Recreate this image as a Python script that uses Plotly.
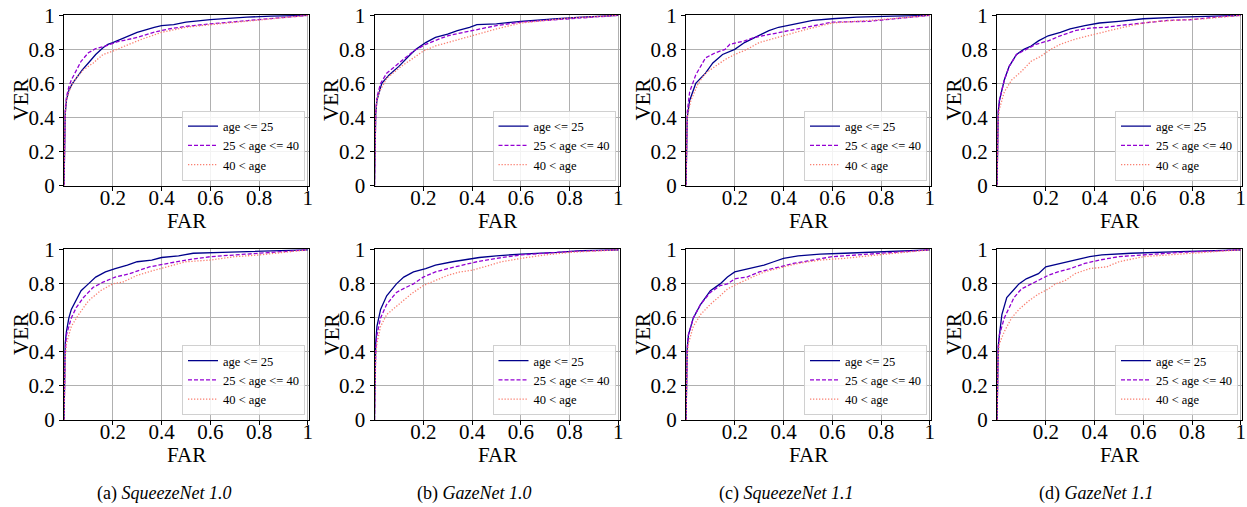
import plotly.graph_objects as go

# ---------------- data (FAR, VER) ----------------
SERIES_NAMES = ["age <= 25", "25 < age <= 40", "40 < age"]
CAPTION_TAGS = ["(a)", "(b)", "(c)", "(d)"]
MODEL_NAMES = ["SqueezeNet 1.0", "GazeNet 1.0", "SqueezeNet 1.1", "GazeNet 1.1"]
Y_TICKS = [0, 0.2, 0.4, 0.6, 0.8, 1.0]
Y_TICK_TEXT = ["0", "0.2", "0.4", "0.6", "0.8", "1"]
X_TICKS = [0.2, 0.4, 0.6, 0.8, 1.0]
X_TICK_TEXT = ["0.2", "0.4", "0.6", "0.8", "1"]

# (a) SqueezeNet 1.0, top row
A1_FAR_LE25 = [0, 0.002, 0.005, 0.01, 0.02, 0.035, 0.05, 0.075, 0.1, 0.13, 0.16, 0.18, 0.2, 0.25, 0.3, 0.37, 0.4, 0.45, 0.5, 0.6, 0.75, 0.85, 1.0]
A1_VER_LE25 = [0, 0.3, 0.42, 0.5, 0.56, 0.6, 0.63, 0.68, 0.72, 0.77, 0.81, 0.83, 0.84, 0.87, 0.9, 0.93, 0.94, 0.945, 0.96, 0.975, 0.99, 0.995, 1.0]
A1_FAR_MID = [0, 0.002, 0.005, 0.01, 0.02, 0.03, 0.05, 0.07, 0.1, 0.13, 0.16, 0.18, 0.22, 0.3, 0.38, 0.43, 0.5, 0.6, 0.75, 0.85, 1.0]
A1_VER_MID = [0, 0.32, 0.45, 0.52, 0.58, 0.62, 0.68, 0.73, 0.78, 0.805, 0.815, 0.825, 0.845, 0.87, 0.905, 0.92, 0.935, 0.95, 0.97, 0.98, 1.0]
A1_FAR_GT40 = [0, 0.002, 0.005, 0.01, 0.02, 0.035, 0.05, 0.08, 0.12, 0.16, 0.2, 0.25, 0.32, 0.4, 0.5, 0.6, 0.75, 0.85, 1.0]
A1_VER_GT40 = [0, 0.3, 0.42, 0.5, 0.55, 0.6, 0.63, 0.68, 0.72, 0.77, 0.79, 0.82, 0.86, 0.9, 0.93, 0.945, 0.965, 0.98, 1.0]

# (a) SqueezeNet 1.0, bottom row
A2_FAR_LE25 = [0, 0.002, 0.005, 0.01, 0.02, 0.03, 0.05, 0.07, 0.1, 0.13, 0.17, 0.21, 0.26, 0.3, 0.36, 0.4, 0.47, 0.53, 0.65, 0.75, 0.9, 1.0]
A2_VER_LE25 = [0, 0.3, 0.45, 0.52, 0.6, 0.65, 0.71, 0.76, 0.8, 0.84, 0.87, 0.89, 0.91, 0.93, 0.94, 0.955, 0.965, 0.98, 0.985, 0.99, 0.998, 1.0]
A2_FAR_MID = [0, 0.002, 0.005, 0.01, 0.03, 0.05, 0.08, 0.12, 0.16, 0.21, 0.27, 0.35, 0.42, 0.5, 0.6, 0.7, 0.8, 1.0]
A2_VER_MID = [0, 0.28, 0.4, 0.5, 0.6, 0.66, 0.72, 0.78, 0.81, 0.84, 0.86, 0.9, 0.92, 0.94, 0.96, 0.97, 0.98, 1.0]
A2_FAR_GT40 = [0, 0.002, 0.005, 0.01, 0.03, 0.06, 0.1, 0.15, 0.2, 0.24, 0.3, 0.37, 0.42, 0.5, 0.6, 0.7, 0.8, 0.9, 1.0]
A2_VER_GT40 = [0, 0.25, 0.37, 0.45, 0.55, 0.62, 0.7, 0.76, 0.8, 0.81, 0.85, 0.88, 0.9, 0.93, 0.94, 0.96, 0.97, 0.985, 1.0]

# (b) GazeNet 1.0, top row
B1_FAR_LE25 = [0, 0.002, 0.005, 0.01, 0.03, 0.06, 0.1, 0.14, 0.17, 0.21, 0.25, 0.3, 0.34, 0.39, 0.42, 0.5, 0.6, 0.75, 0.85, 1.0]
B1_VER_LE25 = [0, 0.3, 0.42, 0.5, 0.6, 0.65, 0.7, 0.76, 0.8, 0.84, 0.87, 0.89, 0.91, 0.93, 0.945, 0.95, 0.965, 0.98, 0.99, 1.0]
B1_FAR_MID = [0, 0.002, 0.005, 0.01, 0.025, 0.05, 0.1, 0.16, 0.21, 0.26, 0.3, 0.4, 0.5, 0.6, 0.8, 1.0]
B1_VER_MID = [0, 0.32, 0.44, 0.52, 0.6, 0.66, 0.72, 0.79, 0.83, 0.86, 0.88, 0.91, 0.94, 0.96, 0.98, 1.0]
B1_FAR_GT40 = [0, 0.002, 0.005, 0.01, 0.02, 0.05, 0.11, 0.16, 0.2, 0.25, 0.32, 0.4, 0.5, 0.6, 0.7, 0.8, 1.0]
B1_VER_GT40 = [0, 0.3, 0.42, 0.5, 0.55, 0.63, 0.7, 0.75, 0.79, 0.82, 0.85, 0.88, 0.92, 0.955, 0.97, 0.985, 1.0]

# (b) GazeNet 1.0, bottom row
B2_FAR_LE25 = [0, 0.002, 0.005, 0.01, 0.025, 0.05, 0.09, 0.12, 0.16, 0.21, 0.25, 0.32, 0.38, 0.43, 0.5, 0.6, 0.75, 0.85, 1.0]
B2_VER_LE25 = [0, 0.32, 0.45, 0.55, 0.65, 0.73, 0.8, 0.84, 0.87, 0.89, 0.91, 0.93, 0.945, 0.955, 0.965, 0.975, 0.985, 0.995, 1.0]
B2_FAR_MID = [0, 0.002, 0.005, 0.01, 0.025, 0.05, 0.09, 0.13, 0.16, 0.2, 0.25, 0.3, 0.36, 0.42, 0.5, 0.6, 0.7, 0.8, 1.0]
B2_VER_MID = [0, 0.3, 0.42, 0.5, 0.6, 0.68, 0.75, 0.78, 0.8, 0.84, 0.87, 0.89, 0.91, 0.93, 0.95, 0.97, 0.98, 0.99, 1.0]
B2_FAR_GT40 = [0, 0.002, 0.005, 0.01, 0.025, 0.05, 0.1, 0.15, 0.2, 0.25, 0.3, 0.35, 0.4, 0.45, 0.52, 0.6, 0.7, 0.8, 1.0]
B2_VER_GT40 = [0, 0.27, 0.38, 0.45, 0.55, 0.62, 0.68, 0.74, 0.79, 0.82, 0.85, 0.87, 0.88, 0.9, 0.93, 0.95, 0.97, 0.985, 1.0]

# (c) SqueezeNet 1.1, top row
C1_FAR_LE25 = [0, 0.002, 0.005, 0.015, 0.04, 0.08, 0.11, 0.15, 0.2, 0.24, 0.3, 0.34, 0.38, 0.45, 0.52, 0.6, 0.7, 0.85, 1.0]
C1_VER_LE25 = [0, 0.3, 0.4, 0.5, 0.6, 0.66, 0.72, 0.77, 0.8, 0.84, 0.88, 0.91, 0.93, 0.95, 0.97, 0.98, 0.99, 0.995, 1.0]
C1_FAR_MID = [0, 0.002, 0.005, 0.015, 0.04, 0.08, 0.12, 0.16, 0.18, 0.24, 0.28, 0.35, 0.42, 0.5, 0.6, 0.75, 0.85, 1.0]
C1_VER_MID = [0, 0.32, 0.43, 0.55, 0.65, 0.75, 0.78, 0.8, 0.83, 0.85, 0.87, 0.89, 0.91, 0.93, 0.96, 0.965, 0.98, 1.0]
C1_FAR_GT40 = [0, 0.002, 0.005, 0.02, 0.05, 0.08, 0.12, 0.16, 0.2, 0.25, 0.3, 0.4, 0.5, 0.6, 0.7, 0.8, 1.0]
C1_VER_GT40 = [0, 0.3, 0.4, 0.5, 0.6, 0.66, 0.7, 0.74, 0.77, 0.8, 0.84, 0.88, 0.92, 0.955, 0.965, 0.975, 1.0]

# (c) SqueezeNet 1.1, bottom row
C2_FAR_LE25 = [0, 0.002, 0.005, 0.01, 0.03, 0.06, 0.1, 0.14, 0.17, 0.2, 0.26, 0.32, 0.36, 0.4, 0.46, 0.55, 0.65, 0.8, 1.0]
C2_VER_LE25 = [0, 0.3, 0.42, 0.5, 0.6, 0.68, 0.76, 0.8, 0.84, 0.87, 0.89, 0.91, 0.93, 0.95, 0.965, 0.975, 0.98, 0.99, 1.0]
C2_FAR_MID = [0, 0.002, 0.005, 0.01, 0.03, 0.06, 0.1, 0.14, 0.17, 0.2, 0.25, 0.3, 0.38, 0.44, 0.5, 0.6, 0.7, 0.8, 1.0]
C2_VER_MID = [0, 0.3, 0.42, 0.5, 0.6, 0.68, 0.75, 0.79, 0.8, 0.83, 0.84, 0.87, 0.9, 0.92, 0.935, 0.96, 0.97, 0.98, 1.0]
C2_FAR_GT40 = [0, 0.002, 0.005, 0.01, 0.03, 0.06, 0.1, 0.14, 0.17, 0.21, 0.27, 0.32, 0.4, 0.46, 0.55, 0.65, 0.75, 0.85, 1.0]
C2_VER_GT40 = [0, 0.27, 0.38, 0.45, 0.55, 0.62, 0.68, 0.73, 0.77, 0.8, 0.84, 0.87, 0.9, 0.92, 0.94, 0.95, 0.965, 0.98, 1.0]

# (d) GazeNet 1.1, top row
D1_FAR_LE25 = [0, 0.002, 0.005, 0.01, 0.03, 0.05, 0.08, 0.11, 0.14, 0.17, 0.21, 0.26, 0.3, 0.36, 0.42, 0.5, 0.6, 0.75, 0.9, 1.0]
D1_VER_LE25 = [0, 0.32, 0.43, 0.5, 0.62, 0.7, 0.77, 0.8, 0.82, 0.85, 0.88, 0.9, 0.92, 0.94, 0.955, 0.965, 0.98, 0.99, 0.998, 1.0]
D1_FAR_MID = [0, 0.002, 0.005, 0.01, 0.03, 0.05, 0.08, 0.12, 0.16, 0.21, 0.26, 0.32, 0.38, 0.45, 0.5, 0.6, 0.7, 0.8, 0.9, 1.0]
D1_VER_MID = [0, 0.32, 0.43, 0.5, 0.62, 0.7, 0.77, 0.8, 0.83, 0.85, 0.88, 0.91, 0.925, 0.93, 0.94, 0.955, 0.97, 0.975, 0.99, 1.0]
D1_FAR_GT40 = [0, 0.002, 0.005, 0.01, 0.03, 0.06, 0.1, 0.14, 0.18, 0.22, 0.26, 0.32, 0.4, 0.46, 0.55, 0.62, 0.72, 0.85, 1.0]
D1_VER_GT40 = [0, 0.3, 0.4, 0.45, 0.55, 0.62, 0.67, 0.73, 0.76, 0.8, 0.83, 0.86, 0.89, 0.91, 0.94, 0.96, 0.97, 0.98, 1.0]

# (d) GazeNet 1.1, bottom row
D2_FAR_LE25 = [0, 0.002, 0.005, 0.01, 0.02, 0.04, 0.07, 0.09, 0.12, 0.17, 0.2, 0.26, 0.32, 0.38, 0.43, 0.55, 0.75, 1.0]
D2_VER_LE25 = [0, 0.32, 0.43, 0.5, 0.62, 0.72, 0.77, 0.8, 0.83, 0.86, 0.9, 0.92, 0.94, 0.96, 0.97, 0.98, 0.99, 1.0]
D2_FAR_MID = [0, 0.002, 0.005, 0.01, 0.03, 0.05, 0.07, 0.1, 0.14, 0.18, 0.21, 0.25, 0.3, 0.36, 0.42, 0.5, 0.6, 0.75, 1.0]
D2_VER_MID = [0, 0.3, 0.42, 0.5, 0.6, 0.66, 0.72, 0.77, 0.8, 0.83, 0.85, 0.87, 0.89, 0.92, 0.94, 0.96, 0.97, 0.985, 1.0]
D2_FAR_GT40 = [0, 0.002, 0.005, 0.01, 0.03, 0.06, 0.09, 0.13, 0.17, 0.21, 0.24, 0.28, 0.32, 0.38, 0.45, 0.5, 0.6, 0.75, 0.85, 1.0]
D2_VER_GT40 = [0, 0.27, 0.38, 0.45, 0.52, 0.6, 0.65, 0.7, 0.74, 0.77, 0.8, 0.82, 0.86, 0.89, 0.9, 0.93, 0.96, 0.975, 0.985, 1.0]

# panel order: row-major (row 0 = top, row 1 = bottom; col 0..3)
PANELS = [
    [(A1_FAR_LE25, A1_VER_LE25), (A1_FAR_MID, A1_VER_MID), (A1_FAR_GT40, A1_VER_GT40)],
    [(B1_FAR_LE25, B1_VER_LE25), (B1_FAR_MID, B1_VER_MID), (B1_FAR_GT40, B1_VER_GT40)],
    [(C1_FAR_LE25, C1_VER_LE25), (C1_FAR_MID, C1_VER_MID), (C1_FAR_GT40, C1_VER_GT40)],
    [(D1_FAR_LE25, D1_VER_LE25), (D1_FAR_MID, D1_VER_MID), (D1_FAR_GT40, D1_VER_GT40)],
    [(A2_FAR_LE25, A2_VER_LE25), (A2_FAR_MID, A2_VER_MID), (A2_FAR_GT40, A2_VER_GT40)],
    [(B2_FAR_LE25, B2_VER_LE25), (B2_FAR_MID, B2_VER_MID), (B2_FAR_GT40, B2_VER_GT40)],
    [(C2_FAR_LE25, C2_VER_LE25), (C2_FAR_MID, C2_VER_MID), (C2_FAR_GT40, C2_VER_GT40)],
    [(D2_FAR_LE25, D2_VER_LE25), (D2_FAR_MID, D2_VER_MID), (D2_FAR_GT40, D2_VER_GT40)],
]

# ---------------- styling / layout ----------------
W, H = 1247, 507
FONT = "Liberation Serif"
LINE_STYLES = [
    dict(color="#00008b", width=1.3, dash="solid"),
    dict(color="#9400d3", width=1.3, dash="4px,2px"),
    dict(color="#fa8072", width=1.3, dash="1.3px,1.7px"),
]
COL_LEFT = [64, 374.5, 686, 997]
PLOT_W = 245
ROW_TOP = [14.5, 249]
PLOT_H = 171
CAPTION_Y = 493


def px_x(v):
    return v / W


def px_y(v):
    return 1 - v / H


fig = go.Figure()
layout = dict(
    template="none",
    width=W, height=H,
    margin=dict(l=0, r=0, t=0, b=0, autoexpand=False),
    paper_bgcolor="white", plot_bgcolor="white",
    font=dict(family=FONT, color="black"),
    annotations=[],
    showlegend=True,
)

for p, curves in enumerate(PANELS):
    row, col = divmod(p, 4)
    idx = p + 1
    xa = "x" if idx == 1 else f"x{idx}"
    ya = "y" if idx == 1 else f"y{idx}"
    lg = "legend" if idx == 1 else f"legend{idx}"
    left, top = COL_LEFT[col], ROW_TOP[row]
    for s, (fx, fy) in enumerate(curves):
        fig.add_trace(go.Scatter(
            x=fx, y=fy, mode="lines", name=SERIES_NAMES[s],
            line=LINE_STYLES[s], xaxis=xa, yaxis=ya, legend=lg,
            hoverinfo="skip",
        ))
    axis_common = dict(
        showline=True, linecolor="black", linewidth=1, mirror=True,
        showgrid=True, gridcolor="#b0b0b0", gridwidth=1,
        ticks="outside", ticklen=4, tickcolor="black", tickwidth=1,
        tickfont=dict(family=FONT, size=21, color="black"),
        zeroline=False, fixedrange=True, automargin=False,
        ticklabeloverflow="allow",
    )
    layout["xaxis" if idx == 1 else f"xaxis{idx}"] = dict(
        axis_common, domain=[px_x(left), px_x(left + PLOT_W)], range=[0, 1.005],
        anchor=ya, tickmode="array", tickvals=X_TICKS, ticktext=X_TICK_TEXT,
        ticklabelstandoff=-11,
    )
    layout["yaxis" if idx == 1 else f"yaxis{idx}"] = dict(
        axis_common, domain=[px_y(top + PLOT_H), px_y(top)], range=[0, 1.005],
        anchor=xa, tickmode="array", tickvals=Y_TICKS, ticktext=Y_TICK_TEXT,
    )
    layout[lg] = dict(
        x=px_x(left + PLOT_W - 4), y=px_y(top + PLOT_H - 5),
        xanchor="right", yanchor="bottom",
        bgcolor="rgba(255,255,255,0.85)", bordercolor="#d0d0d0", borderwidth=1,
        font=dict(family=FONT, size=12.5, color="black"),
        itemwidth=30, tracegroupgap=0,
    )
    # axis labels
    layout["annotations"].append(dict(
        text="VER", xref="paper", yref="paper",
        x=px_x(left - 43.5), y=px_y(top + PLOT_H / 2),
        textangle=-90, showarrow=False, xanchor="center", yanchor="middle",
        font=dict(family=FONT, size=21, color="black"),
    ))
    layout["annotations"].append(dict(
        text="FAR", xref="paper", yref="paper",
        x=px_x(left + PLOT_W / 2), y=px_y(top + PLOT_H + 35),
        showarrow=False, xanchor="center", yanchor="middle",
        font=dict(family=FONT, size=21, color="black"),
    ))

for c in range(4):
    layout["annotations"].append(dict(
        text=f"{CAPTION_TAGS[c]} <i>{MODEL_NAMES[c]}</i>", xref="paper", yref="paper",
        x=px_x(COL_LEFT[c] + PLOT_W / 2 - 23), y=px_y(CAPTION_Y),
        showarrow=False, xanchor="center", yanchor="middle",
        font=dict(family=FONT, size=18, color="black"),
    ))

fig.update_layout(**layout)
# remove the browser's default 8px body margin so the figure sits at (0, 0)
fig.write_html(
    "out.html",
    config={"displayModeBar": False},
    post_script="document.body.style.margin='0';",
)
